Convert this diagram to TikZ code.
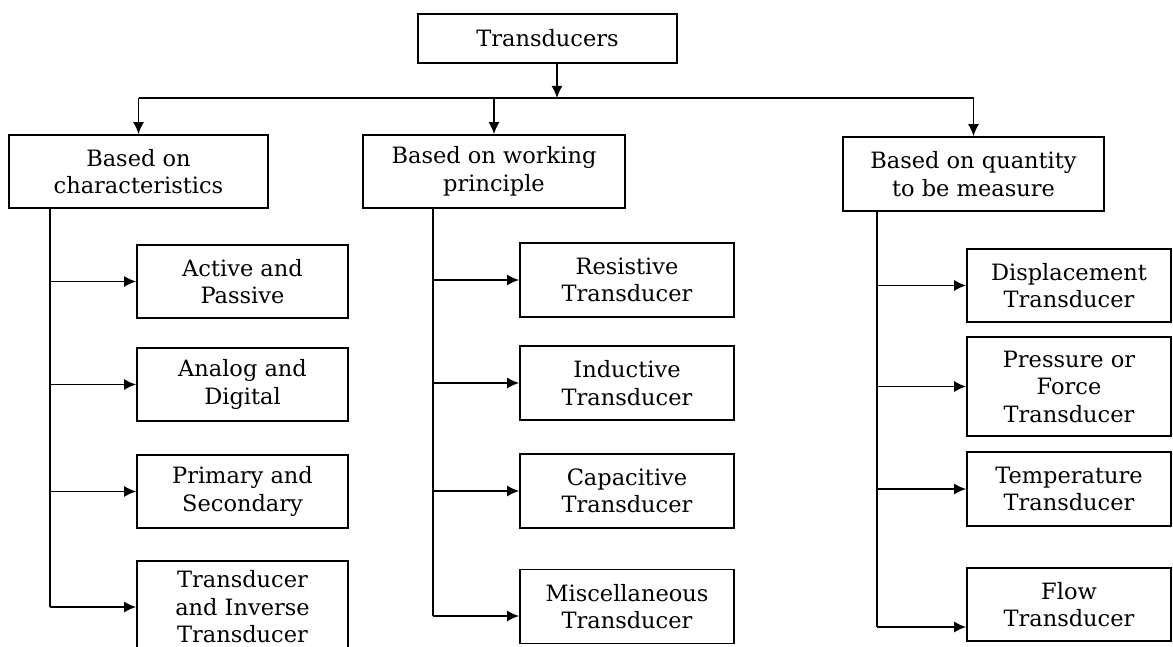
\documentclass[tikz,border=0pt]{standalone}
\usepackage{fontspec}
\setmainfont{DejaVu Serif}
\usepackage{tikz}
\usetikzlibrary{arrows.meta}

\tikzset{
  tbox/.style={draw, line width=1.7pt, align=center, inner sep=0pt,
    font=\fontsize{22.5}{27.5}\selectfont},
  conn/.style={line width=1.5pt},
  arr/.style={conn, -{Latex[length=12pt,width=11pt]}}
}

\begin{document}
\begin{tikzpicture}[x=1pt,y=-1pt]
\useasboundingbox (0,0) rectangle (1173,647);
% top level
\node[tbox, minimum width=259pt, minimum height=49pt] (trans) at (547.5,38.5) {Transducers};
\node[tbox, minimum width=259pt, minimum height=73pt] (charac) at (138.5,171.5) {Based on\\characteristics};
\node[tbox, minimum width=262pt, minimum height=73pt] (princ) at (494,171.5) {Based on working\\principle};
\node[tbox, minimum width=261pt, minimum height=74pt] (quant) at (973.5,174) {Based on quantity\\to be measure};
% characteristics
\node[tbox, minimum width=211pt, minimum height=73pt] (actv) at (242.5,281.5) {Active and\\Passive};
\node[tbox, minimum width=211pt, minimum height=73pt] (anlg) at (242.5,384.5) {Analog and\\Digital};
\node[tbox, minimum width=211pt, minimum height=73pt] (prim) at (242.5,491.5) {Primary and\\Secondary};
\node[tbox, minimum width=211pt, minimum height=92pt] (inv) at (242.5,607) {Transducer\\and Inverse\\Transducer};
% working principle
\node[tbox, minimum width=214pt, minimum height=74pt] (resis) at (627,280) {Resistive\\Transducer};
\node[tbox, minimum width=214pt, minimum height=74pt] (induc) at (627,383) {Inductive\\Transducer};
\node[tbox, minimum width=214pt, minimum height=74pt] (capac) at (627,491) {Capacitive\\Transducer};
\node[tbox, minimum width=214pt, minimum height=74pt] (misc) at (627,606.5) {Miscellaneous\\Transducer};
% quantity
\node[tbox, minimum width=204pt, minimum height=73pt] (displ) at (1069,285.5) {Displacement\\Transducer};
\node[tbox, minimum width=204pt, minimum height=99pt] (press) at (1069,386.5) {Pressure or\\Force\\Transducer};
\node[tbox, minimum width=204pt, minimum height=74pt] (temp) at (1069,489) {Temperature\\Transducer};
\node[tbox, minimum width=204pt, minimum height=73pt] (flow) at (1069,604.5) {Flow\\Transducer};
% bus
\coordinate (bus) at (557,98);
\coordinate (busl) at (138.5,98);
\coordinate (busr) at (973.5,98);
\draw[conn] (busl) -- (busr);
\draw[arr] (trans.south -| bus) -- (bus);
\draw[arr] (busl) -- (charac);
\draw[arr] (bus -| princ) -- (princ);
\draw[arr] (busr) -- (quant);
% trunks
\coordinate (tk1) at (50,607);
\coordinate (tk2) at (433,616);
\coordinate (tk3) at (877,627);
\draw[conn] (charac.south -| tk1) -- (tk1);
\draw[conn] (princ.south -| tk2) -- (tk2);
\draw[conn] (quant.south -| tk3) -- (tk3);
\draw[arr] (tk1 |- actv) -- (actv);
\draw[arr] (tk1 |- anlg) -- (anlg);
\draw[arr] (tk1 |- prim) -- (prim);
\draw[arr] (tk1) -- (inv);
\draw[arr] (tk2 |- resis) -- (resis);
\draw[arr] (tk2 |- induc) -- (induc);
\draw[arr] (tk2 |- capac) -- (capac);
\draw[arr] (tk2) -- (tk2 -| misc.west);
\draw[arr] (tk3 |- displ) -- (displ);
\draw[arr] (tk3 |- press) -- (press);
\draw[arr] (tk3 |- temp) -- (temp);
\draw[arr] (tk3) -- (tk3 -| flow.west);
\end{tikzpicture}
\end{document}
